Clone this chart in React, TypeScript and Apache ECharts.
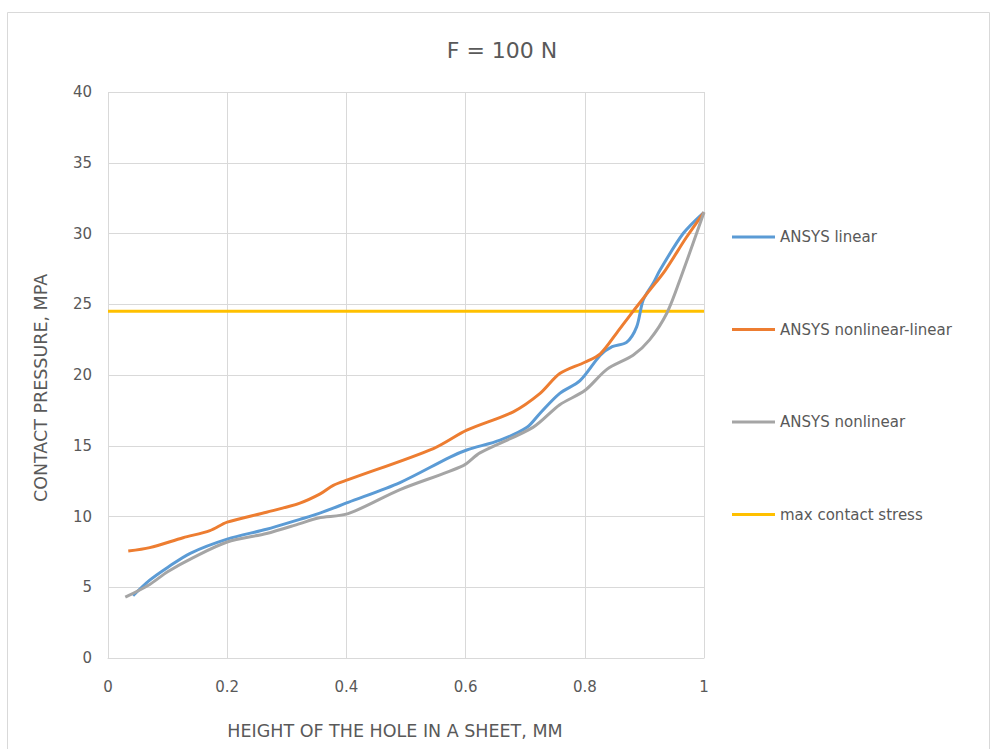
import React, { useEffect, useRef } from "react";
import * as echarts from "echarts";

const chartTitle = "F = 100 N";
const xAxisName = "HEIGHT OF THE HOLE IN A SHEET, MM";
const yAxisName = "CONTACT PRESSURE, MPA";
const seriesNames = ["ANSYS linear", "ANSYS nonlinear-linear", "ANSYS nonlinear", "max contact stress"];

const ansysLinear: [number, number][] = [
  [0.042, 4.4], [0.07, 5.5], [0.1, 6.4], [0.138, 7.4], [0.2, 8.4], [0.266, 9.1],
  [0.322, 9.8], [0.353, 10.2], [0.403, 11.0], [0.49, 12.4], [0.574, 14.2], [0.602, 14.7],
  [0.658, 15.4], [0.703, 16.3], [0.725, 17.3], [0.758, 18.7], [0.792, 19.6], [0.826, 21.4],
  [0.846, 22.0], [0.87, 22.3], [0.887, 23.4], [0.898, 25.3], [0.915, 26.5], [0.926, 27.4],
  [0.965, 30.0], [1, 31.5],
];

const ansysNonlinearLinear: [number, number][] = [
  [0.034, 7.56], [0.07, 7.8], [0.126, 8.5], [0.171, 9.0], [0.2, 9.6], [0.266, 10.3],
  [0.322, 10.95], [0.356, 11.6], [0.378, 12.2], [0.403, 12.6], [0.546, 14.8], [0.602, 16.1],
  [0.68, 17.4], [0.725, 18.7], [0.758, 20.1], [0.8, 20.9], [0.826, 21.5], [0.854, 23.0],
  [0.881, 24.5], [0.909, 26.0], [0.935, 27.4], [0.97, 29.7], [1, 31.5],
];

const ansysNonlinear: [number, number][] = [
  [0.029, 4.3], [0.07, 5.2], [0.1, 6.1], [0.143, 7.1], [0.2, 8.2], [0.266, 8.8],
  [0.322, 9.5], [0.353, 9.9], [0.403, 10.2], [0.49, 11.9], [0.596, 13.6], [0.624, 14.5],
  [0.713, 16.3], [0.758, 17.9], [0.8, 18.9], [0.837, 20.4], [0.881, 21.4], [0.909, 22.5],
  [0.938, 24.4], [0.962, 27.0], [1, 31.5],
];

const maxContactStress: [number, number][] = [
  [0, 24.5], [1, 24.5],
];

const colors = ["#5B9BD5", "#ED7D31", "#A5A5A5", "#FFC000"];
const FONT = "DejaVu Sans";

export default function App() {
  const ref = useRef<HTMLDivElement>(null);
  useEffect(() => {
    document.body.style.margin = "0";
    if (!ref.current) return;
    const chart = echarts.init(ref.current, null, { renderer: "svg" });
    const datasets = [ansysLinear, ansysNonlinearLinear, ansysNonlinear, maxContactStress];
    chart.setOption({
      animation: false,
      backgroundColor: "#ffffff",
      color: colors,
      title: {
        text: chartTitle,
        left: 497,
        top: 34,
        textAlign: "center",
        textStyle: { fontFamily: FONT, fontSize: 22, fontWeight: "normal", color: "#595959" },
      },
      graphic: [
        {
          type: "rect",
          shape: { x: 7.5, y: 12.5, width: 982, height: 760 },
          style: { fill: "none", stroke: "#D9D9D9", lineWidth: 1 },
          silent: true,
          z: -10,
        },
        {
          type: "text",
          x: 395,
          y: 731,
          silent: true,
          style: {
            text: xAxisName,
            fontFamily: FONT,
            fontSize: 17.5,
            fill: "#595959",
            align: "center",
            verticalAlign: "middle",
          },
        },
        {
          type: "text",
          x: 41,
          y: 388,
          rotation: Math.PI / 2,
          silent: true,
          style: {
            text: yAxisName,
            fontFamily: FONT,
            fontSize: 17.5,
            fill: "#595959",
            align: "center",
            verticalAlign: "middle",
          },
        },
      ],
      legend: {
        orient: "vertical",
        left: 732,
        top: 229,
        padding: 0,
        icon: "rect",
        itemWidth: 43,
        itemHeight: 3,
        itemGap: 76.5,
        textStyle: { fontFamily: FONT, fontSize: 15, color: "#595959", lineHeight: 16 },
        data: seriesNames,
      },
      grid: { left: 108, right: 287, top: 92, bottom: 91, containLabel: false },
      xAxis: {
        type: "value",
        min: 0,
        max: 1,
        interval: 0.2,
        axisLine: { show: true, lineStyle: { color: "#D9D9D9" } },
        axisTick: { show: false },
        axisLabel: {
          fontFamily: FONT,
          fontSize: 15,
          color: "#595959",
          margin: 21,
          formatter: (v: number) => String(Math.round(v * 10) / 10),
        },
        splitLine: { show: true, lineStyle: { color: "#D9D9D9" } },
      },
      yAxis: {
        type: "value",
        min: 0,
        max: 40,
        interval: 5,
        axisLine: { show: false },
        axisTick: { show: false },
        axisLabel: { fontFamily: FONT, fontSize: 15, color: "#595959", margin: 16 },
        splitLine: { show: true, lineStyle: { color: "#D9D9D9" } },
      },
      series: datasets.map((d, i) => ({
        name: seriesNames[i],
        type: "line",
        data: d,
        smooth: i === 3 ? false : 0.3,
        showSymbol: false,
        symbol: "none",
        lineStyle: { width: 3, color: colors[i] },
        itemStyle: { color: colors[i] },
        z: i === 3 ? 1 : 2 + i,
      })),
    });
    return () => chart.dispose();
  }, []);
  return <div ref={ref} style={{ width: 991, height: 749 }} />;
}
